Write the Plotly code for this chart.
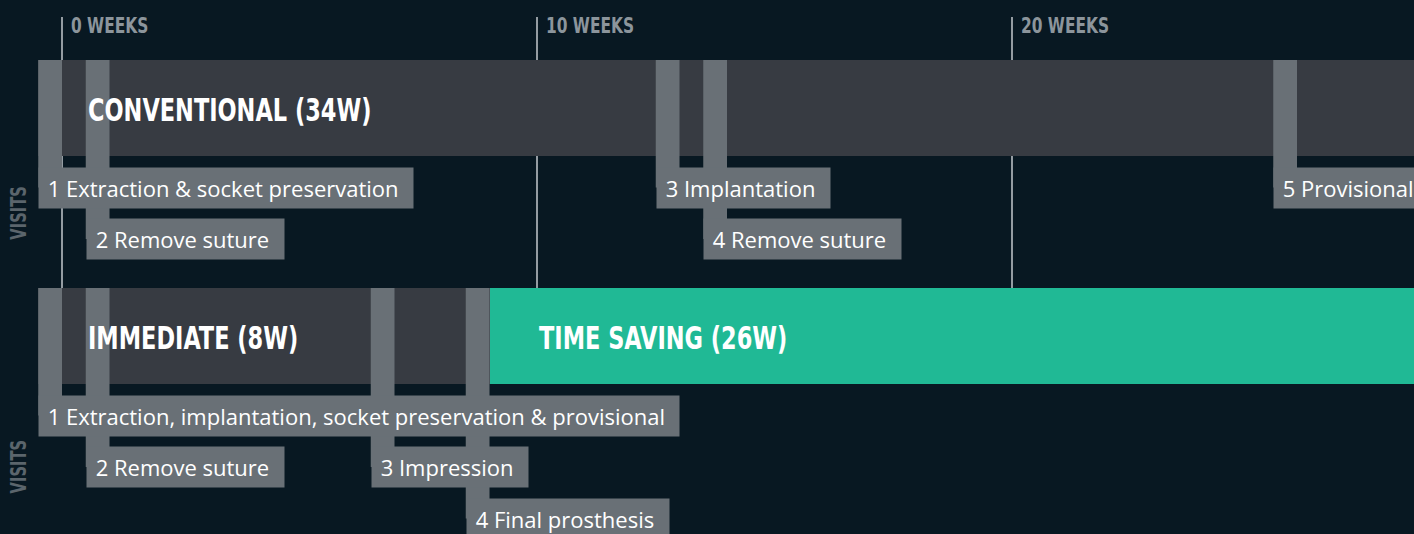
import plotly.graph_objects as go

# ---------------- data ----------------
tick_weeks = [0, 10, 20]
tick_labels = ["0 WEEKS", "10 WEEKS", "20 WEEKS"]

conv_title = "CONVENTIONAL (34W)"
conv_total = 34
conv_visit_weeks = [0, 1, 13, 14, 26]
conv_visit_labels = ["1 Extraction & socket preservation", "2 Remove suture",
                     "3 Implantation", "4 Remove suture", "5 Provisional"]
conv_visit_rows = [0, 1, 0, 1, 0]

imm_title = "IMMEDIATE (8W)"
imm_visit_weeks = [0, 1, 7, 9]
imm_visit_labels = ["1 Extraction, implantation, socket preservation & provisional",
                    "2 Remove suture", "3 Impression", "4 Final prosthesis"]
imm_visit_rows = [0, 1, 1, 2]

saving_title = "TIME SAVING (26W)"
visits_label = "VISITS"

# ---------------- style ----------------
BG = "#081822"
BAR = "#373b42"
STRIPE = "#697076"
GREEN = "#20b995"
GRID = "#949ca2"
TICK = "#8c959c"
VIS = "#5b656c"
COND = "DejaVu Sans Condensed, DejaVu Sans, sans-serif"
BODY = "Open Sans, Noto Sans, sans-serif"
LEAD = "\u2009"
TRAIL = "\u00a0\u2009"

W, H = 1414, 534
PX_PER_WEEK = 47.5
X0 = 62
STRIPE_W = 0.5
BAR_H = 96
ROW_PITCH = 51.5
FIRST_ROW = BAR_H + 12 + 19.5

timelines = [
    dict(top=60, title=conv_title, weeks=conv_visit_weeks, labels=conv_visit_labels,
         rows=conv_visit_rows, end=conv_total + 2),
    dict(top=288, title=imm_title, weeks=imm_visit_weeks, labels=imm_visit_labels,
         rows=imm_visit_rows, end=max(imm_visit_weeks)),
]

fig = go.Figure()
shapes = []
annotations = []

# gridlines + tick labels
for wk, lab in zip(tick_weeks, tick_labels):
    shapes.append(dict(type="line", xref="x", yref="y", x0=wk, x1=wk, y0=17,
                       y1=timelines[1]["top"], line=dict(color=GRID, width=2), layer="below"))
    annotations.append(dict(x=wk, y=25, xref="x", yref="y", text=lab, showarrow=False,
                            xanchor="left", yanchor="middle", xshift=7,
                            font=dict(family=COND, size=22, color=TICK, weight="bold")))

start = -STRIPE_W
for tl in timelines:
    top = tl["top"]
    center = top + BAR_H / 2
    fig.add_trace(go.Bar(orientation="h", y=[center], x=[tl["end"] - start], base=[start],
                         width=BAR_H, marker=dict(color=BAR, line=dict(width=0)),
                         hoverinfo="skip", showlegend=False))
    annotations.append(dict(x=start + 1, y=center + 2, xref="x", yref="y", text=tl["title"],
                            showarrow=False, xanchor="left", yanchor="middle",
                            font=dict(family=COND, size=32, color="white", weight="bold")))
    for wk, lab, r in zip(tl["weeks"], tl["labels"], tl["rows"]):
        ry = top + FIRST_ROW + r * ROW_PITCH
        shapes.append(dict(type="rect", xref="x", yref="y", x0=wk - STRIPE_W, x1=wk,
                           y0=top, y1=ry, fillcolor=STRIPE, line=dict(width=0), layer="above"))
        annotations.append(dict(x=wk - STRIPE_W, y=ry, xref="x", yref="y", text=LEAD + lab + TRAIL,
                                showarrow=False, xanchor="left", yanchor="middle",
                                bgcolor=STRIPE, borderpad=5,
                                font=dict(family=BODY, size=22, color="white")))
    nrows = max(tl["rows"]) + 1
    vis_center = top + FIRST_ROW + (nrows - 1) * ROW_PITCH / 2
    annotations.append(dict(x=19 / W, y=vis_center, xref="paper", yref="y", text=visits_label,
                            textangle=-90, showarrow=False, xanchor="center", yanchor="middle",
                            font=dict(family=COND, size=21, color=VIS, weight="bold")))

# time saving bar
imm_end = max(imm_visit_weeks)
sv_center = timelines[1]["top"] + BAR_H / 2
fig.add_trace(go.Bar(orientation="h", y=[sv_center], x=[conv_total + 2 - imm_end], base=[imm_end],
                     width=BAR_H, marker=dict(color=GREEN, line=dict(width=0)),
                     hoverinfo="skip", showlegend=False))
annotations.append(dict(x=imm_end + 1, y=sv_center + 2, xref="x", yref="y", text=saving_title,
                        showarrow=False, xanchor="left", yanchor="middle",
                        font=dict(family=COND, size=32, color="white", weight="bold")))

fig.update_layout(
    width=W, height=H, margin=dict(l=0, r=0, t=0, b=0),
    paper_bgcolor=BG, plot_bgcolor=BG, barmode="overlay", bargap=0,
    xaxis=dict(range=[-X0 / PX_PER_WEEK, (W - X0) / PX_PER_WEEK], visible=False, fixedrange=True),
    yaxis=dict(range=[H, 0], visible=False, fixedrange=True),
    shapes=shapes, annotations=annotations, showlegend=False,
)

post = """
document.body.style.margin = '0';
document.documentElement.style.background = '#081822';
var gd = document.getElementById('{plot_id}');
gd.querySelectorAll('text.annotation-text').forEach(function(t){
  var ff = t.style.fontFamily || '';
  if (ff.indexOf('Condensed') >= 0) {
    t.style.transformBox = 'fill-box';
    t.style.transformOrigin = (t.textContent === 'VISITS') ? 'center' : 'left center';
    t.style.transform = 'scaleX(0.78)';
  }
});
"""
fig.write_html("out.html", post_script=post, config={"staticPlot": True})
